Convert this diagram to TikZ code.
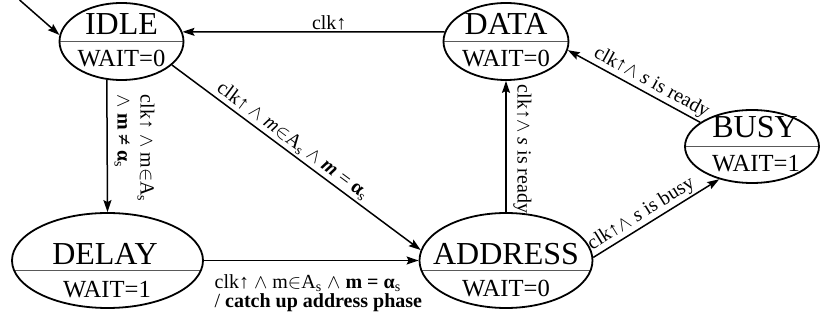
\documentclass[tikz,border=0pt]{standalone}
\usepackage{fontspec}
\setmainfont{Liberation Serif}
\usetikzlibrary{arrows.meta,shapes.geometric}

\tikzset{
	st/.style={draw, ellipse, line width=0.9pt, inner sep=0pt,
		path picture={\draw[line width=0.5pt, black!65] ([yshift=-#1]path picture bounding box.west) -- ([yshift=-#1]path picture bounding box.east);}},
	st/.default=0pt,
	stname/.style={inner sep=0pt, font=\fontsize{16}{18}\selectfont},
	stwait/.style={inner sep=0pt, font=\fontsize{12.3}{14}\selectfont},
	trans/.style={->, line width=0.75pt},
	lbl/.style={font=\fontsize{10}{11.5}\selectfont},
}

\begin{document}
\begin{tikzpicture}[x=0.5pt, y=-0.5pt, >={Stealth[length=6pt, width=4pt, inset=1pt]}]
	\useasboundingbox (0,0) rectangle (820,320);

	\node[st, minimum width=62pt, minimum height=38.5pt] (idle) at (121.5,41.5) {};
	\node[stname] (idlename) at (121.5,24.5) {IDLE};
	\node[stwait] (idlewait) at (121.5,59) {WAIT=0};

	\node[st, minimum width=62.5pt, minimum height=38.5pt] (data) at (506,41.5) {};
	\node[stname] (dataname) at (506,24) {DATA};
	\node[stwait] (datawait) at (506,59) {WAIT=0};

	\node[st, minimum width=67pt, minimum height=36.5pt] (busy) at (752,146.5) {};
	\node[stname] (busyname) at (755,127.5) {BUSY};
	\node[stwait] (busywait) at (756,163.5) {WAIT=1};

	\node[st=5pt, minimum width=95.5pt, minimum height=47.5pt] (delay) at (107.5,260.5) {};
	\node[stname] (delayname) at (105,254) {DELAY};
	\node[stwait] (delaywait) at (107,290) {WAIT=1};

	\node[st=5pt, minimum width=86.5pt, minimum height=47.5pt] (address) at (506,260.5) {};
	\node[stname] (addressname) at (506,254) {ADDRESS};
	\node[stwait] (addresswait) at (506,289) {WAIT=0};

	\coordinate (init) at (19.6,0);
	\draw[trans] (init) -- (idle.174);

	\draw[trans] (data.171) -- node[lbl, above, pos=.44, inner sep=0.5pt] (clkidle) {clk↑} (idle.9);

	\draw[trans] (idle.249.5) -- node[lbl, rotate=-90, above, align=left, pos=.52] (idledelay)
		{clk↑ $\wedge$ m$\in$A\textsubscript{s}\\$\wedge$ \textbf{m ≠ α}\textsubscript{s}} (delay.north);

	\draw[trans] (idle.-25) -- node[lbl, sloped, above, pos=.46, inner sep=1pt] (idleaddr)
		{clk↑ $\wedge$ \textit{m}$\in$A\textsubscript{s} $\wedge$ \textbf{\textit{m}} = \textbf{α}\textsubscript{s}} (address.173);

	\draw[trans] (delay.east) -- node[lbl, align=left, anchor=north west, pos=0, inner sep=0pt, xshift=5pt, yshift=-6.8pt,
		font=\fontsize{10}{8.5}\selectfont] (delayaddr)
		{clk↑ $\wedge$ m$\in$A\textsubscript{s} $\wedge$ \textbf{m = α}\textsubscript{s}\\/ \textbf{catch up address phase}} (address.west);

	\draw[trans] (address.north) -- node[lbl, rotate=-90, above, pos=.48] (addrdata)
		{clk↑$\wedge$ \textit{s} is ready} (data.south);

	\draw[trans] (busy.155) -- node[lbl, sloped, above, pos=.41, inner sep=0.8pt] (busydata)
		{clk↑$\wedge$ \textit{s} is ready} (data.-8);

	\draw[trans] (address.2) -- node[lbl, sloped, above, pos=.43, inner sep=0.8pt] (addrbusy)
		{clk↑$\wedge$ \textit{s} is busy} (busy.225);
\end{tikzpicture}
\end{document}
